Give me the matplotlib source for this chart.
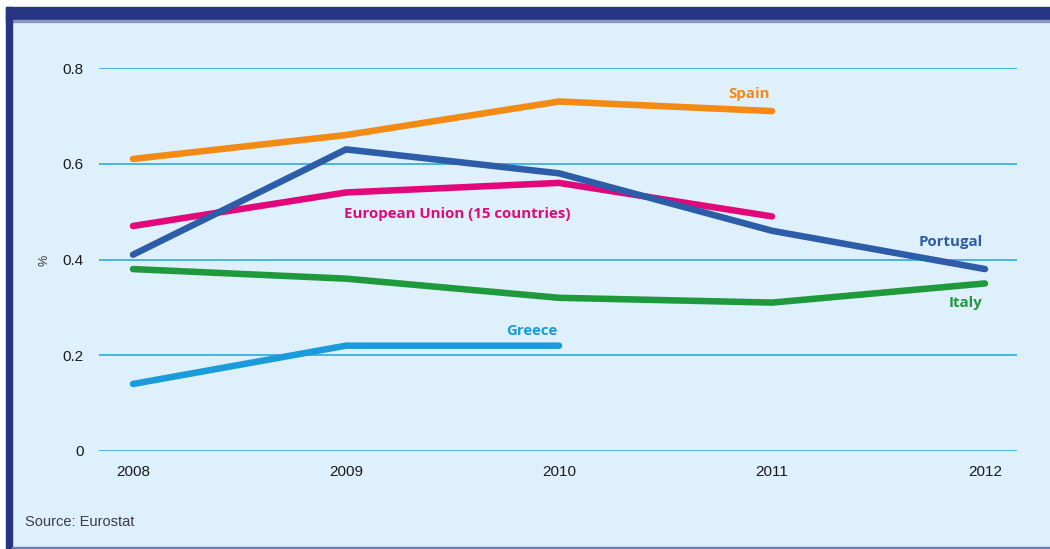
import matplotlib.pyplot as plt
from matplotlib.patches import Rectangle

# unemployment-type rates, % (Eurostat)
years = [2008, 2009, 2010, 2011, 2012]
spain = [0.61, 0.66, 0.73, 0.71]
portugal = [0.41, 0.63, 0.58, 0.46, 0.38]
eu15 = [0.47, 0.54, 0.56, 0.49]
italy = [0.38, 0.36, 0.32, 0.31, 0.35]
greece = [0.14, 0.22, 0.22]
yticks = [0, 0.2, 0.4, 0.6, 0.8]
ytick_labels = ["0", "0.2", "0.4", "0.6", "0.8"]

bg = "#DEF0FC"
navy = "#283583"
grid_c = "#2FA8DF"

fig = plt.figure(figsize=(10.5, 5.49), dpi=100, facecolor=bg)
W, H = 1050, 549

# frame: white margin, navy top band and left bar
def px_rect(x0, y0, x1, y1, color):
    fig.patches.append(Rectangle((x0 / W, 1 - y1 / H), (x1 - x0) / W, (y1 - y0) / H,
                                 transform=fig.transFigure, color=color, zorder=0))

px_rect(0, 0, W, 7, "white")
px_rect(0, 0, 6, H, "white")
px_rect(6, 7, W, 20, navy)
px_rect(6, 20, W, 22, "#8D97C2")
px_rect(6, 7, 12, H, navy)
px_rect(12, 547, W, H, "#6E7DB5")

ax = fig.add_axes([99 / W, 98 / H, 918 / W, 383 / H])
ax.set_facecolor("none")
ax.set_xlim(2008 - 34 / 213, 2012 + 32 / 213)
ax.set_ylim(0, 0.8)
for s in ax.spines.values():
    s.set_visible(False)

for v in yticks:
    ax.axhline(v, color=grid_c, lw=1.2, zorder=1)

lw = 4.7
series = [
    (spain, "#F28A14"),
    (eu15, "#E2087C"),
    (portugal, "#2D5CA8"),
    (italy, "#1E9A3C"),
    (greece, "#1A9BDB"),
]
for vals, col in series:
    ax.plot(years[:len(vals)], vals, color=col, lw=lw, solid_capstyle="round",
            solid_joinstyle="round", zorder=3, clip_on=False)

lab = dict(fontsize=10.8, fontweight="bold", family=["Open Sans", "DejaVu Sans"],
           ha="center", va="center")
ax.text(2011 - 0.11, 0.746, "Spain", color="#F28A14", **lab)
ax.text(2009.52, 0.496, "European Union (15 countries)", color="#E2087C", **lab)
ax.text(2011.84, 0.437, "Portugal", color="#2D5CA8", **lab)
ax.text(2011.91, 0.309, "Italy", color="#1E9A3C", **lab)
ax.text(2009.87, 0.251, "Greece", color="#1A9BDB", **lab)

ax.set_yticks(yticks)
ax.set_yticklabels(ytick_labels)
ax.set_xticks(years)
ax.set_xticklabels([str(y) for y in years])
ax.tick_params(axis="both", length=0, labelsize=11, colors="#1a1a1a")
ax.tick_params(axis="y", pad=11)
ax.tick_params(axis="x", pad=10)
for t in ax.get_xticklabels() + ax.get_yticklabels():
    t.set_family(["Liberation Sans", "DejaVu Sans"])

fig.text(45 / W, 1 - 260 / H, "%", rotation=90, fontsize=9, ha="center", va="center",
         color="#333333", family=["Liberation Sans", "DejaVu Sans"])
fig.text(25 / W, 1 - 522 / H, "Source: Eurostat", fontsize=10.5, ha="left", va="center",
         color="#3a3a4a", family=["Liberation Sans", "DejaVu Sans"])

fig.savefig("out.png", dpi=100, facecolor=bg)
